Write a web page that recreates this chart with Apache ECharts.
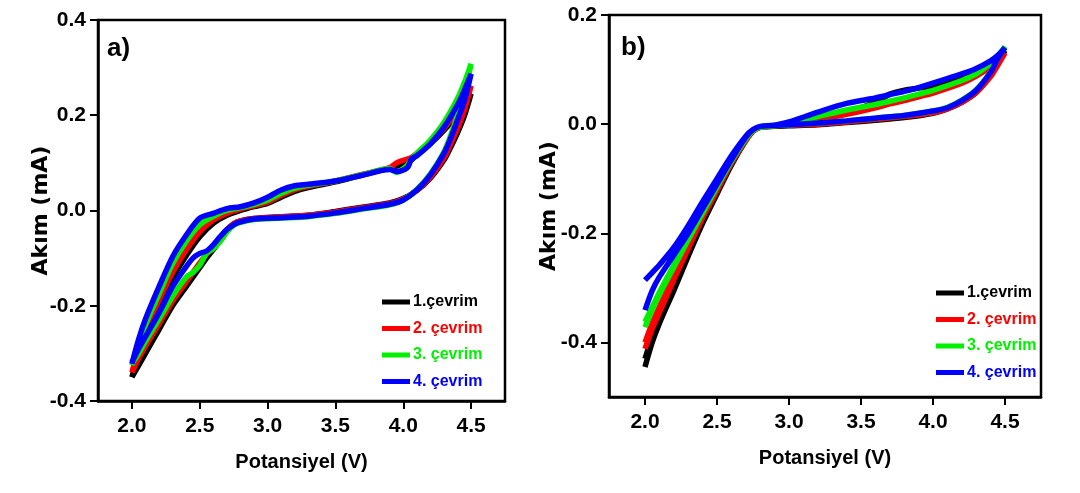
<!DOCTYPE html>
<html>
<head>
<meta charset="utf-8">
<script src="https://cdn.jsdelivr.net/npm/echarts@6/dist/echarts.min.js"></script>
<style>
html,body{margin:0;padding:0;background:#fff;}
#c{width:1080px;height:493px;}
</style>
</head>
<body>
<div id="c"></div>
<script>
// ---------- Data ----------
const cycleNames = ['1.çevrim', '2. çevrim', '3. çevrim', '4. çevrim'];
const cycleColors = ['#000000', '#ff0000', '#00f000', '#0000ff'];
const xTicks = [2.0, 2.5, 3.0, 3.5, 4.0, 4.5];
const yTicksA = [-0.4, -0.2, 0.0, 0.2, 0.4];
const yTicksB = [-0.4, -0.2, 0.0, 0.2];

// Panel a) : forward (anodic) sweep potentials and reverse sweep potentials (V)
const aFwdV = [2.0, 2.05, 2.1, 2.2, 2.3, 2.4, 2.5, 2.6, 2.7, 2.8, 2.9, 3.0, 3.1, 3.2, 3.3, 3.5, 3.7, 3.9, 3.95, 4.03, 4.06, 4.1, 4.2, 4.3, 4.4, 4.45, 4.5];
const aRevV = [4.5, 4.45, 4.4, 4.35, 4.3, 4.2, 4.1, 4.0, 3.9, 3.7, 3.5, 3.3, 3.1, 2.9, 2.8, 2.75, 2.7, 2.65, 2.6, 2.55, 2.5, 2.45, 2.4, 2.3, 2.2, 2.1, 2.05, 2.0];
// currents (mA)
const aFwd1 = [-0.35, -0.30, -0.26, -0.198, -0.142, -0.095, -0.055, -0.027, -0.010, 0.0, 0.008, 0.015, 0.028, 0.040, 0.048, 0.060, 0.075, 0.089, 0.093, 0.102, 0.106, 0.117, 0.140, 0.168, 0.202, 0.222, 0.245];
const aRev1 = [0.245, 0.198, 0.163, 0.133, 0.106, 0.068, 0.042, 0.025, 0.016, 0.007, -0.002, -0.010, -0.013, -0.017, -0.022, -0.028, -0.042, -0.063, -0.082, -0.100, -0.120, -0.140, -0.160, -0.200, -0.250, -0.300, -0.325, -0.350];
const aFwd2 = [-0.34, -0.29, -0.25, -0.188, -0.130, -0.083, -0.045, -0.020, -0.006, 0.003, 0.010, 0.018, 0.032, 0.044, 0.051, 0.062, 0.076, 0.090, 0.100, 0.108, 0.111, 0.120, 0.142, 0.172, 0.210, 0.235, 0.262];
const aRev2 = [0.262, 0.210, 0.172, 0.140, 0.110, 0.070, 0.043, 0.024, 0.015, 0.006, -0.003, -0.010, -0.013, -0.017, -0.022, -0.028, -0.040, -0.060, -0.078, -0.092, -0.110, -0.130, -0.150, -0.190, -0.238, -0.285, -0.310, -0.340];
const aFwd3 = [-0.325, -0.28, -0.24, -0.175, -0.112, -0.065, -0.030, -0.012, 0.0, 0.006, 0.013, 0.022, 0.036, 0.047, 0.053, 0.062, 0.075, 0.088, 0.080, 0.095, 0.108, 0.120, 0.148, 0.185, 0.235, 0.268, 0.308];
const aRev3 = [0.308, 0.245, 0.200, 0.158, 0.123, 0.077, 0.044, 0.022, 0.012, 0.003, -0.006, -0.013, -0.016, -0.019, -0.025, -0.031, -0.045, -0.065, -0.080, -0.090, -0.115, -0.130, -0.140, -0.180, -0.228, -0.275, -0.300, -0.322];
const aFwd4 = [-0.322, -0.27, -0.228, -0.160, -0.097, -0.052, -0.016, -0.006, 0.004, 0.008, 0.016, 0.028, 0.043, 0.052, 0.055, 0.062, 0.074, 0.086, 0.082, 0.090, 0.108, 0.115, 0.140, 0.175, 0.222, 0.252, 0.287];
const aRev4 = [0.287, 0.230, 0.190, 0.152, 0.120, 0.075, 0.043, 0.022, 0.013, 0.004, -0.005, -0.012, -0.015, -0.018, -0.024, -0.030, -0.040, -0.055, -0.072, -0.085, -0.090, -0.100, -0.118, -0.160, -0.215, -0.265, -0.290, -0.318];

// Panel b)
const bFwdV = [2.0, 2.05, 2.1, 2.2, 2.3, 2.4, 2.5, 2.6, 2.7, 2.75, 2.8, 2.9, 3.0, 3.2, 3.4, 3.6, 3.7, 3.8, 3.9, 4.0, 4.2, 4.3, 4.4, 4.45, 4.5];
const bRevV = [4.5, 4.45, 4.4, 4.3, 4.2, 4.1, 4.0, 3.8, 3.6, 3.4, 3.2, 3.0, 2.9, 2.8, 2.75, 2.7, 2.6, 2.5, 2.4, 2.3, 2.2, 2.1, 2.05, 2.0];
const bFwd1 = [-0.43, -0.39, -0.36, -0.29, -0.235, -0.176, -0.120, -0.068, -0.028, -0.013, -0.006, -0.003, 0.0, 0.010, 0.022, 0.040, 0.055, 0.062, 0.066, 0.070, 0.085, 0.095, 0.110, 0.120, 0.135];
const bRev1 = [0.135, 0.113, 0.090, 0.058, 0.040, 0.028, 0.020, 0.012, 0.007, 0.003, -0.001, -0.003, -0.004, -0.006, -0.013, -0.030, -0.075, -0.128, -0.182, -0.242, -0.305, -0.365, -0.400, -0.445];
const bFwd2 = [-0.40, -0.365, -0.335, -0.278, -0.222, -0.168, -0.116, -0.068, -0.028, -0.013, -0.006, -0.003, 0.0, 0.008, 0.018, 0.030, 0.037, 0.043, 0.050, 0.057, 0.075, 0.088, 0.105, 0.117, 0.130];
const bRev2 = [0.130, 0.108, 0.087, 0.058, 0.040, 0.028, 0.021, 0.014, 0.009, 0.004, 0.0, -0.002, -0.003, -0.006, -0.013, -0.030, -0.072, -0.122, -0.172, -0.228, -0.285, -0.345, -0.375, -0.412];
const bFwd3 = [-0.362, -0.335, -0.308, -0.258, -0.207, -0.158, -0.110, -0.065, -0.026, -0.012, -0.005, -0.002, 0.002, 0.014, 0.026, 0.036, 0.042, 0.048, 0.055, 0.062, 0.080, 0.092, 0.112, 0.125, 0.142];
const bRev3 = [0.142, 0.120, 0.096, 0.063, 0.044, 0.031, 0.024, 0.016, 0.011, 0.006, 0.002, -0.001, -0.003, -0.006, -0.012, -0.027, -0.068, -0.115, -0.163, -0.212, -0.262, -0.312, -0.340, -0.372];
const bFwd4 = [-0.286, -0.272, -0.258, -0.226, -0.186, -0.142, -0.100, -0.058, -0.022, -0.010, -0.004, -0.002, 0.004, 0.022, 0.038, 0.048, 0.054, 0.060, 0.067, 0.075, 0.092, 0.102, 0.116, 0.126, 0.140];
const bRev4 = [0.140, 0.120, 0.095, 0.062, 0.043, 0.030, 0.024, 0.016, 0.011, 0.006, 0.002, -0.001, -0.002, -0.004, -0.010, -0.024, -0.065, -0.110, -0.155, -0.200, -0.240, -0.280, -0.305, -0.341];

// ---------- Build ----------
function loop(fv, fi, rv, ri) {
  return fv.map((v, k) => [v, fi[k]]).concat(rv.map((v, k) => [v, ri[k]]));
}
const panelA = [loop(aFwdV, aFwd1, aRevV, aRev1), loop(aFwdV, aFwd2, aRevV, aRev2), loop(aFwdV, aFwd3, aRevV, aRev3), loop(aFwdV, aFwd4, aRevV, aRev4)];
const panelB = [loop(bFwdV, bFwd1, bRevV, bRev1), loop(bFwdV, bFwd2, bRevV, bRev2), loop(bFwdV, bFwd3, bRevV, bRev3), loop(bFwdV, bFwd4, bRevV, bRev4)];

// detect a condensed font
function hasFont(name) {
  const c = document.createElement('canvas').getContext('2d');
  const s = 'Potansiyel 0.4 çevrim';
  c.font = 'bold 40px monospace'; const w1 = c.measureText(s).width;
  c.font = "bold 40px '" + name + "', monospace"; const w2 = c.measureText(s).width;
  return Math.abs(w1 - w2) > 0.5;
}
const narrowName = hasFont('Liberation Sans Narrow') ? 'Liberation Sans Narrow' : (hasFont('Arial Narrow') ? 'Arial Narrow' : null);
const NARROW = narrowName ? "'" + narrowName + "', sans-serif" : "'Liberation Sans', Arial, sans-serif";
const k = narrowName ? 1 : 0.86;
const WIDE = "'DejaVu Sans', sans-serif";
const tickSize = Math.round(24 * k);
const nameSize = Math.round(23 * k);
const legSize = Math.round(19 * k);

function xAxis(gi) {
  return {
    type: 'value', gridIndex: gi, min: 1.75, max: 4.75,
    name: 'Potansiyel (V)', nameLocation: 'middle', nameGap: 51, nameMoveOverlap: false,
    nameTextStyle: { fontFamily: NARROW, fontWeight: 'bold', fontSize: nameSize, color: '#000' },
    axisLine: { show: true, onZero: false, lineStyle: { color: '#000', width: 2.5 } },
    axisTick: { show: true, inside: false, length: 8, lineStyle: { color: '#000', width: 2 }, customValues: xTicks },
    axisLabel: { show: true, margin: 15, fontFamily: NARROW, fontWeight: 'bold', fontSize: tickSize, color: '#000',
      customValues: xTicks, formatter: v => v.toFixed(1) },
    splitLine: { show: false }
  };
}
function yAxis(gi, min, max, ticks, gap) {
  return {
    type: 'value', gridIndex: gi, min: min, max: max,
    name: 'Akım (mA)', nameLocation: 'middle', nameGap: gap, nameRotate: 90, nameMoveOverlap: false,
    nameTextStyle: { fontFamily: WIDE, fontWeight: 'bold', fontSize: 22, color: '#000' },
    axisLine: { show: true, onZero: false, lineStyle: { color: '#000', width: 2.5 } },
    axisTick: { show: true, inside: false, length: 8, lineStyle: { color: '#000', width: 2 }, customValues: ticks },
    axisLabel: { show: true, margin: 12, fontFamily: NARROW, fontWeight: 'bold', fontSize: tickSize, color: '#000',
      customValues: ticks, formatter: v => (Math.abs(v) < 1e-9 ? 0 : v).toFixed(1) },
    splitLine: { show: false }
  };
}
function legend(left, top) {
  return {
    orient: 'vertical', left: left, top: top, icon: 'rect', itemWidth: 28, itemHeight: 5, itemGap: 6.5,
    selectedMode: false,
    textStyle: { fontFamily: NARROW, fontWeight: 'bold', fontSize: legSize, lineHeight: 20, padding: [0, 0, 0, -2] },
    data: cycleNames.map((n, i) => ({ name: n, textStyle: { color: cycleColors[i] } }))
  };
}

const series = [];
[panelA, panelB].forEach((panel, gi) => {
  panel.forEach((d, i) => {
    series.push({
      type: 'line', name: cycleNames[i], xAxisIndex: gi, yAxisIndex: gi, data: d,
      showSymbol: false, smooth: 0.3, color: cycleColors[i],
      lineStyle: { width: 5.5, color: cycleColors[i] }, z: 2 + i, animation: false
    });
  });
});

const chart = echarts.init(document.getElementById('c'), null, { renderer: 'canvas' });
chart.setOption({
  backgroundColor: '#ffffff',
  animation: false,
  grid: [
    { left: 98, top: 20, width: 407, height: 381, show: true, borderColor: '#000', borderWidth: 2.5, backgroundColor: 'transparent' },
    { left: 609, top: 15, width: 432, height: 382, show: true, borderColor: '#000', borderWidth: 2.5, backgroundColor: 'transparent' }
  ],
  xAxis: [xAxis(0), xAxis(1)],
  yAxis: [yAxis(0, -0.4, 0.4, yTicksA, 46), yAxis(1, -0.5, 0.2, yTicksB, 49)],
  legend: [legend(377, 287), legend(931, 278)],
  graphic: [
    { type: 'text', left: 107, top: 36, style: { text: 'a)', fontFamily: NARROW, fontWeight: 'bold', fontSize: 26, fill: '#000' } },
    { type: 'text', left: 621, top: 35, style: { text: 'b)', fontFamily: NARROW, fontWeight: 'bold', fontSize: 26, fill: '#000' } }
  ],
  series: series
});
</script>
</body>
</html>
